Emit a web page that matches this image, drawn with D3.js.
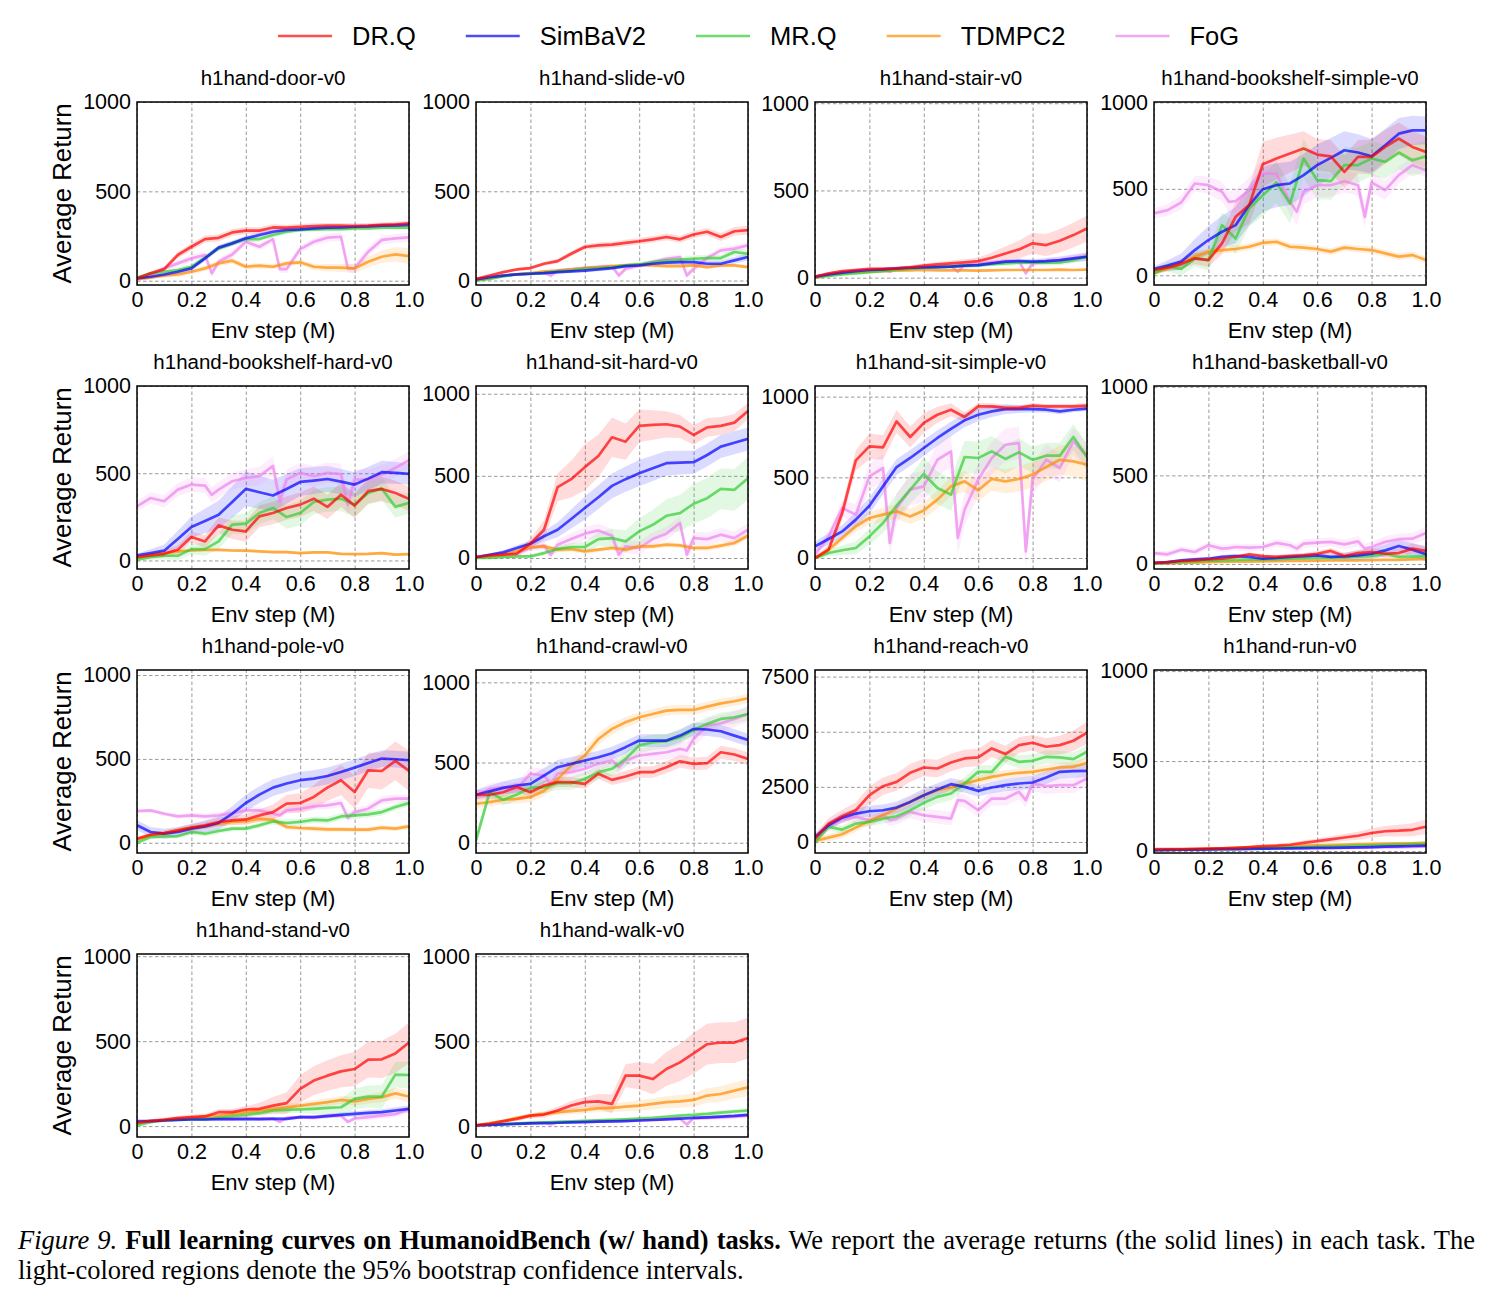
<!DOCTYPE html>
<html>
<head>
<meta charset="utf-8">
<script src="https://cdn.jsdelivr.net/npm/d3@7"></script>
<style>
  body { margin: 0; background: #fff; }
</style>
</head>
<body>
<script>
// ---- data ----
const SERIES = ["DR.Q", "SimBaV2", "MR.Q", "TDMPC2", "FoG"];
const COLORS = ["#ff0000", "#0000ff", "#32cd32", "#ff8c00", "#ee82ee"];

const TASKS = ["h1hand-door-v0", "h1hand-slide-v0", "h1hand-stair-v0", "h1hand-bookshelf-simple-v0",
  "h1hand-bookshelf-hard-v0", "h1hand-sit-hard-v0", "h1hand-sit-simple-v0", "h1hand-basketball-v0",
  "h1hand-pole-v0", "h1hand-crawl-v0", "h1hand-reach-v0", "h1hand-run-v0",
  "h1hand-stand-v0", "h1hand-walk-v0"];

// env steps (M) of the evaluations
const STEPS = [0, 0.05, 0.1, 0.15, 0.2, 0.25, 0.3, 0.35, 0.4, 0.45, 0.5, 0.55, 0.6, 0.65, 0.7, 0.75, 0.8, 0.85, 0.9, 0.95, 1.0];
const FOG_STEPS = [0, 0.05, 0.1, 0.15, 0.2, 0.25, 0.275, 0.3, 0.35, 0.4, 0.45, 0.5, 0.525, 0.55, 0.6, 0.65, 0.7, 0.75, 0.775, 0.8, 0.85, 0.9, 0.95, 1.0];
const SERIES_STEPS = [STEPS, STEPS, STEPS, STEPS, FOG_STEPS];
const BAND_KNOTS = [0, 0.2, 0.4, 0.6, 0.8, 1.0];

const X_TICKS = [0, 0.2, 0.4, 0.6, 0.8, 1.0];
const Y_TICKS_DEFAULT = [0, 500, 1000];
const Y_TICKS_REACH = [0, 2500, 5000, 7500];

// mean returns, order: DR.Q, SimBaV2, MR.Q, TDMPC2, FoG
const door = [
  [13, 41, 65, 144, 190, 233, 240, 270, 280, 280, 298, 297, 302, 306, 308, 308, 306, 308, 312, 315, 321],
  [13, 22, 35, 50, 69, 125, 185, 209, 237, 256, 274, 284, 287, 293, 297, 299, 302, 304, 308, 310, 312],
  [17, 41, 50, 60, 78, 129, 181, 209, 233, 233, 256, 274, 284, 287, 289, 289, 293, 293, 297, 299, 297],
  [7, 17, 28, 35, 50, 69, 97, 112, 78, 84, 78, 97, 103, 78, 73, 73, 69, 106, 134, 147, 138],
  [17, 32, 69, 97, 125, 144, 41, 106, 147, 218, 190, 233, 65, 65, 177, 218, 241, 246, 69, 69, 162, 228, 237, 243]
];
const slide = [
  [9, 28, 47, 62, 70, 94, 109, 150, 188, 197, 201, 211, 220, 231, 244, 231, 258, 273, 244, 276, 282],
  [6, 19, 28, 34, 38, 41, 47, 51, 56, 62, 70, 81, 85, 94, 100, 103, 103, 94, 94, 113, 132],
  [0, 9, 23, 34, 38, 43, 51, 56, 66, 70, 75, 85, 90, 103, 113, 117, 122, 126, 126, 160, 150],
  [4, 15, 28, 34, 41, 51, 56, 62, 70, 75, 81, 85, 88, 85, 81, 81, 85, 75, 85, 85, 75],
  [6, 13, 28, 34, 38, 45, 28, 56, 62, 71, 75, 80, 28, 66, 85, 103, 122, 132, 28, 66, 126, 169, 179, 197]
];
const stair = [
  [6, 25, 38, 44, 50, 50, 53, 59, 69, 76, 82, 88, 95, 114, 139, 162, 197, 187, 212, 244, 282],
  [6, 19, 29, 38, 44, 48, 53, 57, 59, 61, 63, 69, 72, 82, 92, 95, 92, 95, 101, 111, 120],
  [0, 10, 19, 25, 31, 38, 46, 50, 57, 61, 65, 69, 72, 78, 82, 86, 86, 86, 88, 101, 120],
  [2, 15, 25, 31, 34, 38, 40, 42, 44, 42, 42, 42, 40, 42, 44, 44, 44, 44, 46, 44, 46],
  [6, 15, 29, 38, 40, 44, 34, 50, 57, 63, 66, 68, 34, 72, 80, 88, 92, 95, 25, 82, 95, 98, 111, 126]
];
const bookshelfSimple = [
  [31, 44, 65, 98, 88, 185, 338, 406, 642, 675, 704, 733, 698, 688, 598, 685, 685, 742, 790, 742, 713],
  [37, 56, 79, 146, 204, 252, 290, 406, 498, 521, 531, 579, 637, 679, 723, 710, 688, 752, 819, 838, 838],
  [12, 50, 37, 98, 88, 290, 213, 387, 463, 537, 415, 675, 550, 544, 637, 637, 675, 656, 710, 665, 688],
  [12, 40, 69, 108, 137, 146, 152, 165, 188, 194, 165, 160, 152, 137, 160, 152, 146, 127, 108, 117, 88],
  [358, 377, 421, 531, 521, 483, 425, 429, 492, 588, 588, 425, 367, 483, 521, 521, 544, 521, 338, 537, 492, 579, 637, 608]
];
const bookshelfHard = [
  [19, 29, 38, 61, 134, 109, 201, 176, 167, 253, 272, 301, 320, 354, 307, 377, 314, 397, 410, 387, 353],
  [29, 42, 56, 123, 192, 226, 262, 335, 410, 391, 372, 410, 450, 458, 467, 452, 435, 469, 506, 502, 496],
  [4, 19, 27, 27, 65, 65, 109, 205, 211, 272, 301, 249, 272, 335, 349, 354, 320, 387, 412, 307, 330],
  [13, 33, 42, 52, 57, 61, 61, 57, 56, 52, 48, 48, 42, 46, 46, 38, 36, 38, 42, 33, 36],
  [310, 358, 339, 406, 435, 429, 376, 406, 454, 473, 483, 542, 339, 464, 502, 483, 502, 495, 318, 464, 464, 492, 531, 575]
];
const sitHard = [
  [6, 16, 20, 26, 87, 172, 431, 480, 553, 621, 735, 708, 804, 810, 814, 800, 749, 795, 804, 824, 895],
  [6, 20, 34, 61, 87, 132, 172, 237, 304, 370, 439, 480, 516, 546, 577, 581, 583, 627, 678, 702, 725],
  [0, 0, 6, 10, 10, 30, 55, 67, 67, 115, 121, 101, 162, 202, 257, 273, 330, 364, 421, 415, 486],
  [0, 10, 20, 40, 65, 71, 51, 55, 40, 51, 61, 51, 71, 71, 81, 77, 61, 61, 75, 91, 136],
  [0, 14, 20, 30, 61, 75, 20, 81, 115, 148, 168, 136, 20, 71, 61, 115, 148, 213, 20, 121, 115, 142, 121, 172]
];
const sitSimple = [
  [0, 52, 279, 605, 692, 686, 847, 750, 837, 888, 919, 874, 940, 940, 930, 930, 944, 940, 940, 940, 944],
  [72, 118, 165, 238, 324, 444, 564, 620, 682, 744, 800, 853, 888, 909, 923, 923, 923, 919, 909, 919, 926],
  [0, 31, 48, 62, 134, 217, 324, 424, 521, 434, 393, 626, 620, 661, 614, 655, 609, 634, 634, 750, 626],
  [0, 52, 124, 196, 248, 269, 289, 258, 295, 362, 444, 475, 420, 490, 475, 490, 517, 564, 609, 599, 578],
  [21, 134, 310, 269, 506, 558, 93, 310, 424, 444, 609, 661, 124, 300, 486, 620, 702, 713, 41, 486, 609, 558, 723, 630]
];
const basketball = [
  [6, 11, 17, 21, 26, 30, 40, 55, 45, 40, 45, 49, 58, 74, 45, 62, 68, 58, 62, 87, 74],
  [6, 11, 21, 26, 30, 40, 45, 40, 30, 34, 40, 45, 49, 40, 43, 49, 58, 77, 102, 81, 55],
  [2, 6, 10, 14, 18, 21, 23, 25, 26, 28, 30, 32, 34, 36, 38, 42, 46, 58, 40, 42, 43],
  [2, 4, 6, 8, 10, 12, 13, 14, 15, 16, 17, 18, 19, 20, 20, 21, 22, 23, 24, 26, 28],
  [62, 55, 81, 68, 106, 87, 90, 96, 92, 96, 119, 106, 87, 115, 121, 125, 111, 128, 87, 96, 125, 140, 143, 175]
];
const pole = [
  [24, 48, 58, 74, 90, 104, 124, 133, 139, 163, 183, 233, 237, 273, 329, 373, 303, 432, 428, 488, 428],
  [104, 64, 54, 64, 84, 98, 118, 173, 237, 287, 329, 353, 373, 382, 398, 422, 448, 476, 502, 498, 492],
  [0, 34, 38, 40, 64, 54, 70, 84, 84, 104, 127, 118, 124, 137, 133, 157, 163, 169, 183, 213, 237],
  [18, 44, 58, 74, 90, 98, 114, 124, 129, 143, 137, 94, 88, 84, 80, 80, 78, 78, 90, 84, 98],
  [189, 193, 173, 157, 163, 157, 160, 163, 177, 193, 193, 173, 163, 193, 203, 217, 223, 237, 149, 183, 203, 253, 263, 263]
];
const crawl = [
  [299, 299, 315, 347, 315, 357, 378, 378, 367, 430, 392, 413, 440, 440, 471, 508, 492, 496, 564, 550, 523],
  [299, 320, 342, 357, 367, 419, 471, 492, 513, 533, 558, 596, 637, 637, 637, 668, 710, 706, 695, 668, 641],
  [15, 315, 268, 301, 342, 347, 371, 371, 398, 440, 461, 523, 606, 627, 633, 658, 703, 741, 772, 782, 803],
  [243, 253, 268, 274, 284, 322, 398, 481, 544, 647, 710, 751, 782, 803, 824, 828, 828, 849, 869, 882, 901],
  [295, 336, 347, 336, 430, 419, 367, 430, 440, 461, 492, 513, 471, 513, 544, 554, 564, 585, 575, 647, 730, 745, 772, 803]
];
const reach = [
  [152, 833, 1167, 1439, 2121, 2530, 2727, 3136, 3378, 3333, 3606, 3788, 3833, 4242, 3985, 4394, 4500, 4318, 4394, 4591, 4954],
  [227, 758, 1106, 1288, 1394, 1439, 1561, 1818, 2121, 2379, 2621, 2500, 2318, 2470, 2576, 2652, 2697, 2924, 3182, 3212, 3227],
  [0, 682, 561, 833, 909, 1061, 1167, 1439, 1773, 2045, 2197, 2652, 3182, 3182, 3864, 3636, 3682, 3864, 3833, 3758, 4091],
  [45, 197, 348, 652, 955, 1212, 1515, 1818, 2121, 2348, 2470, 2652, 2803, 2955, 3061, 3136, 3182, 3288, 3379, 3409, 3591],
  [152, 682, 1061, 1136, 985, 1212, 985, 1061, 1364, 1212, 1136, 1061, 1894, 1864, 1439, 1970, 1970, 2273, 1894, 2652, 2530, 2576, 2576, 2879]
];
const run = [
  [10, 10, 11, 12, 13, 15, 18, 22, 27, 30, 35, 45, 55, 65, 75, 85, 100, 110, 113, 118, 135],
  [5, 6, 7, 8, 9, 10, 11, 12, 13, 14, 15, 16, 17, 18, 19, 20, 22, 24, 26, 28, 30],
  [5, 6, 7, 8, 9, 10, 12, 14, 16, 18, 20, 22, 24, 26, 28, 30, 32, 34, 36, 38, 40],
  [5, 7, 9, 11, 13, 15, 18, 20, 23, 26, 28, 30, 32, 34, 36, 38, 40, 41, 42, 43, 45],
  [5, 6, 7, 8, 9, 10, 10, 11, 12, 13, 13, 14, 14, 15, 16, 17, 18, 19, 19, 20, 21, 22, 23, 25]
];
const stand = [
  [20, 29, 37, 47, 53, 57, 82, 82, 98, 102, 121, 135, 219, 268, 297, 322, 336, 391, 393, 428, 492],
  [29, 29, 33, 37, 39, 39, 41, 41, 41, 41, 43, 43, 53, 53, 59, 66, 72, 78, 82, 92, 102],
  [4, 23, 33, 37, 41, 41, 49, 57, 66, 76, 92, 96, 98, 102, 107, 111, 160, 174, 174, 303, 301],
  [14, 29, 37, 43, 49, 57, 62, 72, 82, 92, 102, 111, 121, 131, 141, 154, 146, 160, 170, 193, 174],
  [20, 33, 39, 47, 49, 49, 45, 43, 43, 47, 43, 45, 25, 49, 53, 49, 62, 62, 25, 45, 53, 62, 70, 100]
];
const walk = [
  [4, 14, 29, 43, 62, 68, 92, 121, 141, 146, 131, 297, 297, 277, 336, 375, 428, 482, 492, 492, 518],
  [4, 7, 10, 13, 16, 18, 20, 22, 24, 26, 28, 30, 33, 36, 40, 44, 48, 52, 56, 60, 66],
  [4, 8, 12, 16, 20, 22, 25, 28, 31, 34, 37, 40, 44, 48, 55, 62, 66, 72, 80, 86, 92],
  [4, 18, 29, 49, 62, 72, 82, 88, 96, 105, 107, 115, 121, 131, 141, 146, 154, 180, 189, 209, 228],
  [4, 8, 12, 15, 18, 20, 10, 22, 24, 26, 27, 30, 30, 32, 35, 38, 42, 44, 10, 46, 48, 52, 56, 62]
];

// 95% CI half-widths at BAND_KNOTS, same series order
const doorCI = [[8, 20, 20, 15, 15, 15], [8, 15, 15, 12, 12, 12], [8, 15, 15, 12, 12, 12], [5, 15, 15, 15, 25, 45], [8, 20, 20, 20, 25, 25]];
const slideCI = [[5, 10, 15, 18, 20, 25], [5, 8, 10, 12, 15, 20], [5, 8, 10, 12, 18, 20], [5, 8, 8, 10, 10, 10], [5, 10, 12, 15, 15, 20]];
const stairCI = [[5, 10, 12, 20, 60, 75], [5, 8, 10, 12, 15, 25], [5, 8, 10, 12, 15, 20], [5, 5, 5, 5, 5, 5], [5, 8, 8, 10, 15, 20]];
const bookshelfSimpleCI = [[15, 40, 130, 90, 100, 90], [15, 80, 130, 120, 100, 80], [15, 60, 120, 110, 100, 90], [10, 20, 20, 20, 20, 20], [30, 50, 80, 70, 60, 40]];
const bookshelfHardCI = [[10, 30, 60, 70, 70, 70], [10, 60, 100, 80, 70, 60], [10, 30, 60, 70, 70, 60], [5, 8, 8, 8, 8, 8], [30, 40, 50, 60, 60, 50]];
const sitHardCI = [[5, 30, 140, 100, 60, 50], [5, 20, 70, 80, 70, 70], [5, 10, 30, 80, 120, 130], [5, 15, 15, 15, 15, 20], [5, 20, 40, 40, 40, 40]];
const sitSimpleCI = [[10, 80, 60, 20, 15, 15], [30, 50, 50, 40, 20, 15], [10, 50, 100, 100, 80, 80], [10, 40, 50, 70, 80, 100], [20, 80, 100, 100, 100, 80]];
const basketballCI = [[5, 8, 10, 15, 20, 30], [5, 10, 15, 15, 30, 40], [5, 8, 8, 10, 15, 15], [3, 5, 5, 5, 5, 5], [15, 20, 20, 25, 30, 35]];
const poleCI = [[10, 20, 30, 60, 100, 120], [30, 30, 50, 50, 50, 50], [10, 15, 15, 20, 20, 20], [10, 15, 20, 15, 15, 15], [10, 15, 20, 20, 25, 25]];
const crawlCI = [[30, 30, 30, 35, 40, 40], [30, 50, 40, 40, 40, 40], [30, 40, 40, 50, 40, 40], [25, 30, 40, 30, 30, 30], [30, 40, 40, 40, 50, 50]];
const reachCI = [[200, 400, 400, 400, 350, 500], [150, 250, 300, 250, 300, 300], [150, 200, 300, 300, 300, 300], [150, 200, 200, 200, 200, 250], [150, 250, 300, 300, 350, 350]];
const runCI = [[3, 5, 8, 15, 25, 40], [3, 3, 5, 5, 8, 10], [3, 3, 5, 5, 8, 10], [3, 5, 5, 5, 8, 10], [3, 3, 5, 5, 5, 10]];
const standCI = [[10, 15, 20, 80, 100, 120], [5, 8, 10, 10, 15, 20], [5, 10, 15, 20, 60, 80], [5, 10, 15, 20, 25, 35], [5, 8, 10, 10, 15, 20]];
const walkCI = [[5, 15, 30, 80, 120, 120], [5, 5, 5, 5, 8, 10], [5, 5, 8, 10, 12, 15], [5, 10, 20, 30, 40, 50], [5, 5, 8, 10, 10, 15]];

const MEANS = [door, slide, stair, bookshelfSimple, bookshelfHard, sitHard, sitSimple, basketball,
  pole, crawl, reach, run, stand, walk];
const CIS = [doorCI, slideCI, stairCI, bookshelfSimpleCI, bookshelfHardCI, sitHardCI, sitSimpleCI, basketballCI,
  poleCI, crawlCI, reachCI, runCI, standCI, walkCI];
const Y_DOMAINS = [[-24, 1000], [-25, 1000], [-42, 1007], [-56, 1002], [-49, 1000], [-67, 1047], [-68, 1066], [-28, 1004],
  [-61, 1030], [-64, 1077], [-500, 7800], [-11, 1006], [-64, 1013], [-64, 1013]];

const CAPTION_BOLD = "Full learning curves on HumanoidBench (w/ hand) tasks.";
const CAPTION_REST = " We report the average returns (the solid lines) in each task. The";
const CAPTION_LINE2 = "light-colored regions denote the 95% bootstrap confidence intervals.";

// ---- layout ----
const WIDTH = 1491, HEIGHT = 1301;
const PLOT_W = 272, PLOT_H = 183;
const COL_X = [137, 476, 815, 1154];
const ROW_Y = [102, 386, 670, 954];

const svg = d3.select("body").append("svg")
  .attr("width", WIDTH)
  .attr("height", HEIGHT)
  .style("font-family", "'Liberation Sans', Arial, sans-serif");

// legend
let lx = 278;
SERIES.forEach((name, s) => {
  svg.append("line")
    .attr("x1", lx).attr("x2", lx + 54)
    .attr("y1", 36).attr("y2", 36)
    .attr("stroke", COLORS[s]).attr("stroke-opacity", 0.7)
    .attr("stroke-width", 2.6);
  const t = svg.append("text")
    .attr("x", lx + 74).attr("y", 45)
    .attr("font-size", 25.5)
    .text(name);
  lx += 74 + t.node().getComputedTextLength() + 50;
});

TASKS.forEach((task, i) => {
  const col = i % 4, row = Math.floor(i / 4);
  const g = svg.append("g")
    .attr("transform", "translate(" + COL_X[col] + "," + ROW_Y[row] + ")");

  const x = d3.scaleLinear().domain([0, 1]).range([0, PLOT_W]);
  const y = d3.scaleLinear().domain(Y_DOMAINS[i]).range([PLOT_H, 0]);
  const yTicks = task === "h1hand-reach-v0" ? Y_TICKS_REACH : Y_TICKS_DEFAULT;

  g.append("clipPath").attr("id", "clip" + i)
    .append("rect").attr("width", PLOT_W).attr("height", PLOT_H);

  // dashed grid
  g.append("g").attr("class", "grid")
    .attr("transform", "translate(0," + PLOT_H + ")")
    .call(d3.axisBottom(x).tickValues(X_TICKS).tickSize(-PLOT_H).tickFormat(""));
  g.append("g").attr("class", "grid")
    .call(d3.axisLeft(y).tickValues(yTicks).tickSize(-PLOT_W).tickFormat(""));
  g.selectAll(".grid .domain").remove();
  g.selectAll(".grid line")
    .attr("stroke", "#9a9a9a")
    .attr("stroke-width", 1)
    .attr("stroke-dasharray", "3.5,2.5");

  const plot = g.append("g").attr("clip-path", "url(#clip" + i + ")");

  // confidence bands
  MEANS[i].forEach((vals, s) => {
    const xs = SERIES_STEPS[s];
    const hw = d3.scaleLinear().domain(BAND_KNOTS).range(CIS[i][s]);
    plot.append("path")
      .datum(vals)
      .attr("fill", COLORS[s])
      .attr("fill-opacity", 0.14)
      .attr("d", d3.area()
        .x((d, j) => x(xs[j]))
        .y0((d, j) => y(d - hw(xs[j])))
        .y1((d, j) => y(d + hw(xs[j]))));
  });

  // mean curves, DR.Q drawn last
  d3.range(SERIES.length - 1, -1, -1).forEach(s => {
    const xs = SERIES_STEPS[s];
    plot.append("path")
      .datum(MEANS[i][s])
      .attr("fill", "none")
      .attr("stroke", COLORS[s])
      .attr("stroke-opacity", 0.7)
      .attr("stroke-width", 2.7)
      .attr("stroke-linejoin", "round")
      .attr("d", d3.line().x((d, j) => x(xs[j])).y(d => y(d)));
  });

  // frame
  g.append("rect")
    .attr("width", PLOT_W).attr("height", PLOT_H)
    .attr("fill", "none").attr("stroke", "#000").attr("stroke-width", 1.5);

  // tick labels
  const xAxis = g.append("g")
    .attr("transform", "translate(0," + PLOT_H + ")")
    .call(d3.axisBottom(x).tickValues(X_TICKS).tickSize(0).tickPadding(7)
      .tickFormat(d => d === 0 ? "0" : d.toFixed(1)));
  const yAxis = g.append("g")
    .call(d3.axisLeft(y).tickValues(yTicks).tickSize(0).tickPadding(6)
      .tickFormat(d3.format("d")));
  [xAxis, yAxis].forEach(a => {
    a.select(".domain").remove();
    a.attr("font-size", 21.5).attr("font-family", null);
    a.selectAll("text").attr("fill", "#000");
  });

  // title and axis labels
  g.append("text")
    .attr("x", PLOT_W / 2).attr("y", -17)
    .attr("text-anchor", "middle")
    .attr("font-size", 20.5)
    .text(task);
  g.append("text")
    .attr("x", PLOT_W / 2).attr("y", PLOT_H + 53)
    .attr("text-anchor", "middle")
    .attr("font-size", 22)
    .text("Env step (M)");
  if (col === 0) {
    g.append("text")
      .attr("transform", "translate(-75," + (PLOT_H / 2) + ") rotate(-90)")
      .attr("text-anchor", "middle")
      .attr("dy", "0.35em")
      .attr("font-size", 25.8)
      .text("Average Return");
  }
});

// caption
const cap = svg.append("g")
  .style("font-family", "'Liberation Serif', 'Times New Roman', serif")
  .style("white-space", "pre")
  .attr("font-size", 26.5);
const line1 = cap.append("text").attr("x", 18).attr("y", 1249);
line1.append("tspan").attr("font-style", "italic").text("Figure 9.");
line1.append("tspan").text(" ");
line1.append("tspan").attr("font-weight", "bold").text(CAPTION_BOLD);
line1.append("tspan").text(CAPTION_REST);
const full = "Figure 9. " + CAPTION_BOLD + CAPTION_REST;
const gaps = full.split(" ").length - 1;
const spare = 1457 - line1.node().getComputedTextLength();
line1.attr("word-spacing", spare / gaps);
cap.append("text").attr("x", 18).attr("y", 1279).text(CAPTION_LINE2);
</script>
</body>
</html>
